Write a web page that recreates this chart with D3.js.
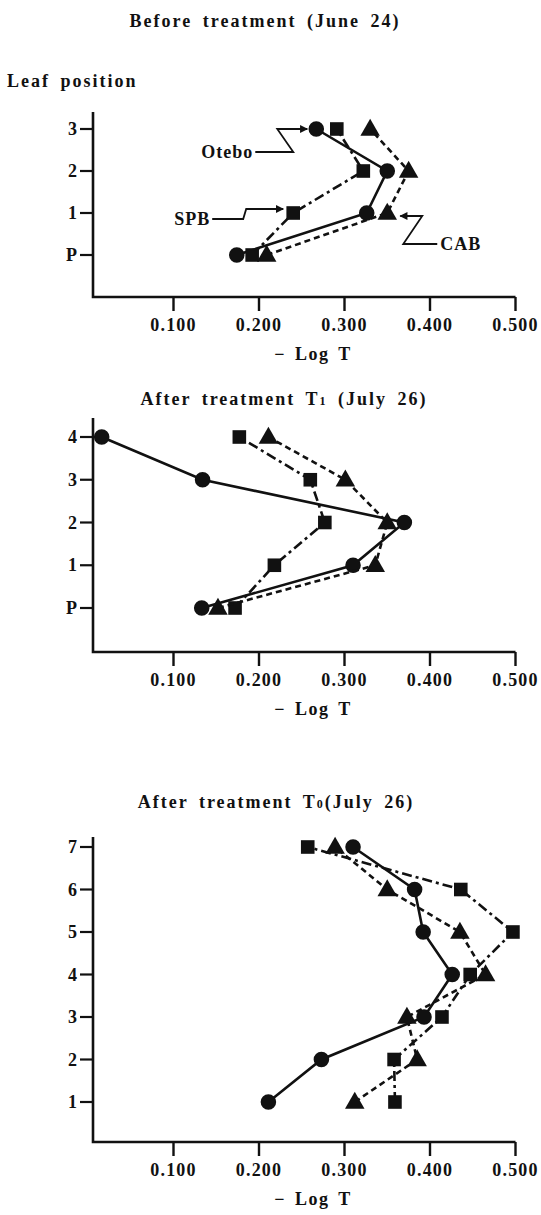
<!DOCTYPE html>
<html>
  <head>
    <meta charset="utf-8">
    <title>Leaf position vs -Log T</title>
    <script src="https://cdnjs.cloudflare.com/ajax/libs/d3/7.8.5/d3.min.js"></script>
    <style>
      body { margin: 0; background: #fff; }
      text { font-family: "Liberation Serif", "DejaVu Serif", serif; font-weight: bold; fill: #111; }
    </style>
  </head>
  <body>
    <div id="vis"></div>
    <script>
      // x axis ticks (shared by all three panels)
      var xTicks = [0.1, 0.2, 0.3, 0.4, 0.5];
      var xTickLabels = ["0.100", "0.200", "0.300", "0.400", "0.500"];

      // panel 1: before treatment (June 24)
      var leaves1 = ["P", "1", "2", "3"];
      var otebo1 = [0.174, 0.326, 0.350, 0.267];
      var spb1   = [0.192, 0.240, 0.322, 0.291];
      var cab1   = [0.209, 0.350, 0.375, 0.330];

      // panel 2: after treatment T1 (July 26)
      var leaves2 = ["P", "1", "2", "3", "4"];
      var otebo2 = [0.133, 0.310, 0.370, 0.134, 0.016];
      var spb2   = [0.172, 0.218, 0.277, 0.260, 0.177];
      var cab2   = [0.152, 0.336, 0.350, 0.301, 0.211];

      // panel 3: after treatment T0 (July 26)
      var leaves3 = ["1", "2", "3", "4", "5", "6", "7"];
      var otebo3 = [0.211, 0.273, 0.393, 0.426, 0.392, 0.382, 0.310];
      var spb3   = [0.359, 0.358, 0.414, 0.447, 0.497, 0.436, 0.257];
      var cab3   = [0.312, 0.385, 0.373, 0.465, 0.435, 0.350, 0.289];

      var W = 541, H = 1215;
      var svg = d3.select("#vis").append("svg")
        .attr("width", W).attr("height", H)
        .style("display", "block");
      svg.append("rect").attr("width", W).attr("height", H).attr("fill", "#fff");

      svg.append("defs").append("marker")
        .attr("id", "arrow")
        .attr("viewBox", "0 0 10 10")
        .attr("refX", 9).attr("refY", 5)
        .attr("markerUnits", "userSpaceOnUse")
        .attr("markerWidth", 9).attr("markerHeight", 8)
        .attr("orient", "auto")
        .append("path").attr("d", "M0,0 L10,5 L0,10 z").attr("fill", "#111");

      var x = d3.scaleLinear().domain([0, 0.5]).range([88, 515.5]);
      var axisX0 = 93;

      var series = [
        { name: "Otebo", shape: "circle", dash: null },
        { name: "SPB", shape: "square", dash: "10,4,3,4" },
        { name: "CAB", shape: "triangle", dash: "6,4" }
      ];

      function drawPanel(p) {
        var g = svg.append("g");
        var y = d3.scalePoint().domain(p.leaves).range([p.yBottom, p.yTop]);

        // title
        var t = g.append("text")
          .attr("x", p.titleX).attr("y", p.titleY)
          .attr("text-anchor", "middle")
          .style("font-size", "18px").style("letter-spacing", "2px")
          .style("word-spacing", "4px")
          .text(p.title[0]);
        if (p.title.length > 1) {
          t.append("tspan").style("font-size", "12px").text(p.title[1]);
          t.append("tspan").text(p.title[2]);
        }

        // axes
        g.append("path")
          .attr("d", "M" + axisX0 + "," + p.axisTop + " V" + p.axisY + " H" + x(0.5))
          .attr("fill", "none").attr("stroke", "#111").attr("stroke-width", 2.6);

        g.selectAll("line.xt").data(xTicks).enter().append("line")
          .attr("x1", function (d) { return x(d); })
          .attr("x2", function (d) { return x(d); })
          .attr("y1", p.axisY).attr("y2", p.axisY + 14)
          .attr("stroke", "#111").attr("stroke-width", 2.4);

        g.selectAll("text.xt").data(xTicks).enter().append("text")
          .attr("x", function (d) { return x(d); })
          .attr("y", p.axisY + 34)
          .attr("text-anchor", "middle")
          .style("font-size", "18px").style("letter-spacing", "1.2px")
          .text(function (d, i) { return xTickLabels[i]; });

        g.append("text")
          .attr("x", 313).attr("y", p.axisY + 63)
          .attr("text-anchor", "middle")
          .style("font-size", "18px").style("letter-spacing", "1.5px")
          .style("word-spacing", "3px")
          .text("\u2212 Log T");

        g.selectAll("line.yt").data(p.leaves).enter().append("line")
          .attr("x1", axisX0 - 13).attr("x2", axisX0)
          .attr("y1", function (d) { return y(d); })
          .attr("y2", function (d) { return y(d); })
          .attr("stroke", "#111").attr("stroke-width", 2.2);

        g.selectAll("text.yt").data(p.leaves).enter().append("text")
          .attr("x", axisX0 - 16)
          .attr("y", function (d) { return y(d) + 6; })
          .attr("text-anchor", "end")
          .style("font-size", "18px")
          .text(function (d) { return d; });

        // lines and markers
        var vals = [p.otebo, p.spb, p.cab];
        series.forEach(function (s, k) {
          var pts = vals[k].map(function (v, i) { return [x(v), y(p.leaves[i])]; });
          g.append("path")
            .attr("d", d3.line()(pts))
            .attr("fill", "none").attr("stroke", "#111")
            .attr("stroke-width", 2.6)
            .attr("stroke-dasharray", s.dash);

          var sym = s.shape === "circle" ? d3.symbolCircle
                  : s.shape === "square" ? d3.symbolSquare : d3.symbolTriangle;
          var size = s.shape === "circle" ? 190 : s.shape === "square" ? 185 : 165;
          g.selectAll("path.m" + k).data(pts).enter().append("path")
            .attr("transform", function (d) {
              return "translate(" + d[0] + "," + (d[1] + (s.shape === "triangle" ? 1 : 0)) + ")";
            })
            .attr("d", d3.symbol().type(sym).size(size))
            .attr("fill", "#111");
        });

        return y;
      }

      var y1 = drawPanel({
        title: ["Before treatment (June 24)"], titleX: 265, titleY: 27,
        leaves: leaves1, otebo: otebo1, spb: spb1, cab: cab1,
        yBottom: 255, yTop: 129, axisTop: 112, axisY: 297
      });

      drawPanel({
        title: ["After treatment T", "1", " (July 26)"], titleX: 284, titleY: 405,
        leaves: leaves2, otebo: otebo2, spb: spb2, cab: cab2,
        yBottom: 608, yTop: 437, axisTop: 418, axisY: 652
      });

      drawPanel({
        title: ["After treatment T", "0", "(July 26)"], titleX: 276, titleY: 808,
        leaves: leaves3, otebo: otebo3, spb: spb3, cab: cab3,
        yBottom: 1102, yTop: 847, axisTop: 837, axisY: 1142
      });

      // y axis heading
      svg.append("text")
        .attr("x", 7).attr("y", 87)
        .style("font-size", "18px").style("letter-spacing", "2px")
        .style("word-spacing", "4px")
        .text("Leaf position");

      // series labels with pointer lines (panel 1)
      var ann = svg.append("g");
      function pointer(pts, label, lx, ly, anchor) {
        ann.append("path")
          .attr("d", d3.line()(pts))
          .attr("fill", "none").attr("stroke", "#111").attr("stroke-width", 1.8)
          .attr("marker-end", "url(#arrow)");
        ann.append("text")
          .attr("x", lx).attr("y", ly + 6)
          .attr("text-anchor", anchor)
          .style("font-size", "18px").style("letter-spacing", "1px")
          .text(label);
      }

      var tO = [x(otebo1[3]) - 9, y1("3")];
      pointer([[tO[0] - 52, tO[1] + 23], [tO[0] - 14, tO[1] + 23], [tO[0] - 30, tO[1]], tO],
              "Otebo", tO[0] - 54, tO[1] + 23, "end");

      var tS = [x(spb1[1]) - 10, y1("1") - 4];
      pointer([[tS[0] - 71, tS[1] + 10], [tS[0] - 40, tS[1] + 10], [tS[0] - 37, tS[1]], tS],
              "SPB", tS[0] - 73, tS[1] + 10, "end");

      var tC = [x(cab1[1]) + 13, y1("1") + 3];
      pointer([[tC[0] + 37, tC[1] + 28], [tC[0] + 3, tC[1] + 28], [tC[0] + 22, tC[1]], tC],
              "CAB", tC[0] + 40, tC[1] + 28, "start");
    </script>
  </body>
</html>
